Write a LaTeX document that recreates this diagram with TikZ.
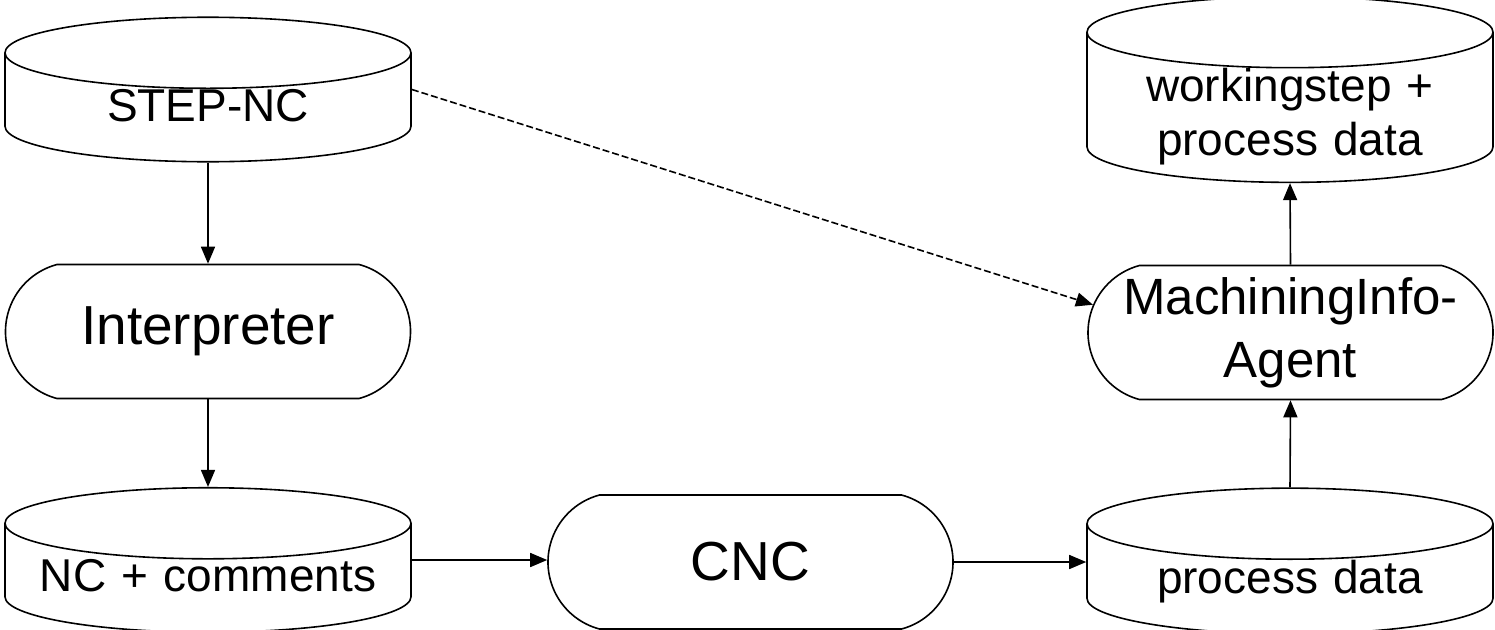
\documentclass[tikz,border=0pt]{standalone}
\usepackage{fontspec}
\setmainfont{Liberation Sans}
\usetikzlibrary{shapes.geometric}
\usetikzlibrary{shapes.misc}
\usetikzlibrary{arrows.meta}
\usetikzlibrary{positioning}

\tikzset{
  store/.style={cylinder,shape border rotate=90,shape aspect=0.175,draw,line width=1.6pt,
    minimum width=406pt,text width=406pt,text depth=5pt,inner sep=0pt,
    align=center,anchor=shape center,font=\fontsize{46}{54}\selectfont},
  proc/.style={rounded rectangle,rounded rectangle arc length=150,draw,line width=1.6pt,
    minimum width=405pt,minimum height=134pt,inner sep=0pt,align=center,
    font=\fontsize{55}{63}\selectfont},
  flow/.style={line width=1.6pt,-{Triangle[length=17pt,width=14pt]}}
}

\begin{document}
\begin{tikzpicture}[x=1pt,y=-1pt]
\useasboundingbox (0,0) rectangle (1495,629);
% stores
\node[store] (stepnc) at (208,89.5) {STEP-NC};
\node[store] (nccom) at (208,560) {NC + comments};
\node[store] (procdata) at (1290,561) {process data};
\node[store,text depth=45pt] (wstep) at (1290,89.5) {workingstep +\\process data};
% processes
\node[proc] (interp) at (208,331.5) {Interpreter};
\node[proc] (cnc) at (750.5,562) {CNC};
\node[proc,font=\fontsize{51}{63}\selectfont] (agent) at (1290.5,332.5) {MachiningInfo-\\Agent};

\draw[flow] (stepnc.south) -- (interp.north);
\draw[flow] (interp.south) -- (nccom.north);
\draw[flow] (nccom.shape center -| nccom.east) -- (nccom.shape center -| cnc.west);
\draw[flow] (cnc.east) -- (cnc.east -| procdata.west);
\draw[flow] (procdata.north) -- (agent.south);
\draw[flow] (agent.north) -- (wstep.south);
\draw[flow,dash pattern=on 7pt off 3pt] (stepnc.shape center -| stepnc.east) -- (agent.172);

\end{tikzpicture}
\end{document}
